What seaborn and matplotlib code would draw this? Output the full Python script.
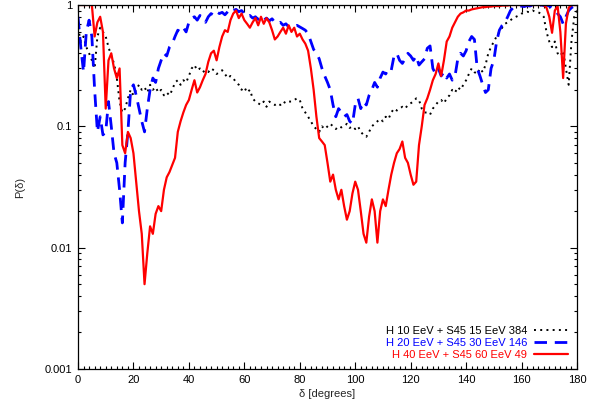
import matplotlib
matplotlib.use("Agg")
import matplotlib.pyplot as plt
import numpy as np
import pandas as pd
import seaborn as sns
from matplotlib.ticker import FixedLocator, FuncFormatter, LogLocator, MultipleLocator, NullFormatter

# angular separation in degrees
angle = list(range(0, 181))

# P(delta) for the three source combinations
p_h10_s15 = [
    0.65, 0.5, 0.55, 0.45, 0.4, 0.35, 0.3, 0.55, 0.65, 0.6,
    0.55, 0.45, 0.38, 0.33, 0.25, 0.16, 0.13, 0.14, 0.17, 0.2,
    0.18, 0.2, 0.22, 0.2, 0.21, 0.19, 0.22, 0.2, 0.21, 0.19,
    0.2, 0.18, 0.19, 0.18, 0.2, 0.23, 0.24, 0.22, 0.24, 0.23,
    0.26, 0.3, 0.32, 0.29, 0.3, 0.28, 0.29, 0.28, 0.3, 0.29,
    0.27, 0.28, 0.29, 0.27, 0.25, 0.26, 0.25, 0.23, 0.22, 0.2,
    0.21, 0.19, 0.2, 0.17, 0.16, 0.155, 0.15, 0.16, 0.145, 0.16,
    0.155, 0.15, 0.155, 0.15, 0.16, 0.155, 0.16, 0.16, 0.165, 0.17,
    0.165, 0.14, 0.13, 0.12, 0.11, 0.1, 0.095, 0.09, 0.1, 0.095,
    0.1, 0.105, 0.1, 0.095, 0.1, 0.098, 0.1, 0.105, 0.097, 0.1,
    0.095, 0.1, 0.09, 0.085, 0.082, 0.09, 0.1, 0.105, 0.11, 0.115,
    0.11, 0.12, 0.115, 0.13, 0.14, 0.135, 0.14, 0.145, 0.14, 0.15,
    0.155, 0.16, 0.17, 0.165, 0.14, 0.13, 0.13, 0.125, 0.14, 0.15,
    0.16, 0.165, 0.155, 0.17, 0.18, 0.2, 0.19, 0.21, 0.2, 0.22,
    0.24, 0.27, 0.3, 0.28, 0.27, 0.3, 0.28, 0.32, 0.4, 0.45,
    0.5, 0.55, 0.6, 0.65, 0.7, 0.72, 0.75, 0.78, 0.8, 0.82,
    0.85, 0.86, 0.88, 0.87, 0.9, 0.88, 0.87, 0.85, 0.8, 0.6,
    0.5, 0.45, 0.5, 0.4, 0.38, 0.42, 0.3, 0.22, 0.5, 0.8, 0.9,
]

p_h20_s30 = [
    0.8, 0.45, 0.28, 0.6, 0.75, 0.55, 0.2, 0.09, 0.12, 0.085,
    0.09, 0.16, 0.1, 0.06, 0.05, 0.03, 0.016, 0.05, 0.09, 0.2,
    0.22, 0.18, 0.14, 0.11, 0.09, 0.14, 0.2, 0.25, 0.23, 0.3,
    0.35, 0.4, 0.38, 0.45, 0.48, 0.55, 0.62, 0.6, 0.65, 0.6,
    0.72, 0.78, 0.8, 0.75, 0.82, 0.78, 0.72, 0.8, 0.85, 0.82,
    0.88, 0.85, 0.87, 0.83, 0.88, 0.85, 0.9, 0.92, 0.88, 0.9,
    0.85, 0.8, 0.82, 0.78, 0.8, 0.76, 0.8, 0.75, 0.78, 0.74,
    0.77, 0.72, 0.7, 0.72, 0.68, 0.7, 0.66, 0.68, 0.67, 0.68,
    0.66, 0.64, 0.62, 0.58, 0.5, 0.43, 0.4, 0.36, 0.3, 0.26,
    0.23, 0.2, 0.15, 0.12, 0.14, 0.13, 0.12, 0.125, 0.11, 0.105,
    0.15, 0.17, 0.14, 0.16, 0.15, 0.18, 0.2, 0.23, 0.21, 0.25,
    0.28, 0.27, 0.3, 0.29, 0.38, 0.4, 0.35, 0.33, 0.36, 0.4,
    0.38, 0.35, 0.38, 0.32, 0.34, 0.36, 0.44, 0.46, 0.3, 0.27,
    0.3, 0.26, 0.28, 0.25, 0.27, 0.24, 0.26, 0.36, 0.4, 0.38,
    0.42, 0.5, 0.55, 0.52, 0.3, 0.26, 0.22, 0.19, 0.2, 0.3,
    0.35, 0.5, 0.62, 0.68, 0.72, 0.8, 0.9, 0.95, 0.96, 0.97,
    0.98, 0.97, 0.99, 0.98, 1.0, 0.99, 0.98, 1.0, 0.99, 1.0,
    0.98, 0.95, 0.9, 0.85, 0.8, 0.7, 0.8, 0.9, 0.95, 0.98, 1.0,
]

p_h40_s60 = [
    1.0, 1.0, 1.0, 1.0, 1.0, 1.0, 0.55, 0.72, 0.8, 0.6,
    0.14, 0.35, 0.4, 0.3, 0.25, 0.3, 0.07, 0.06, 0.09, 0.08,
    0.06, 0.035, 0.02, 0.013, 0.005, 0.009, 0.015, 0.013, 0.019, 0.022,
    0.02, 0.03, 0.038, 0.042, 0.048, 0.055, 0.09, 0.11, 0.13, 0.15,
    0.165, 0.2, 0.24, 0.19, 0.21, 0.24, 0.27, 0.34, 0.4, 0.42,
    0.35, 0.45, 0.55, 0.62, 0.6, 0.75, 0.85, 0.9, 0.78, 0.85,
    0.75, 0.7, 0.65, 0.72, 0.78, 0.68, 0.8, 0.7, 0.78, 0.72,
    0.62, 0.52, 0.55, 0.6, 0.65, 0.58, 0.68, 0.6, 0.65, 0.55,
    0.58, 0.52, 0.48, 0.42, 0.3, 0.2, 0.12, 0.08, 0.075, 0.07,
    0.05, 0.035, 0.04, 0.03, 0.025, 0.03, 0.022, 0.017, 0.02, 0.028,
    0.035, 0.03, 0.02, 0.013, 0.011, 0.018, 0.025, 0.02, 0.011, 0.02,
    0.025, 0.022, 0.03, 0.04, 0.05, 0.06, 0.065, 0.075, 0.055, 0.05,
    0.04, 0.033, 0.035, 0.07, 0.1, 0.15, 0.17, 0.2, 0.24, 0.27,
    0.33, 0.26, 0.35, 0.5, 0.55, 0.65, 0.72, 0.8, 0.85, 0.87,
    0.9, 0.9, 0.92, 0.93, 0.94, 0.95, 0.96, 0.96, 0.97, 0.97,
    0.98, 0.98, 0.98, 0.99, 0.99, 0.99, 1.0, 1.0, 1.0, 1.0,
    1.0, 1.0, 1.0, 1.0, 1.0, 1.0, 1.0, 1.0, 1.0, 0.95,
    0.8, 0.59, 0.9, 0.98, 0.6, 0.25, 0.7, 0.95, 1.0, 1.0, 1.0,
]

series_labels = [
    "H 10 EeV + S45 15 EeV 384",
    "H 20 EeV + S45 30 EeV 146",
    "H 40 EeV + S45 60 EeV 49",
]
series_colors = ["#000000", "#0000ff", "#ff0000"]

x_ticks = [0, 20, 40, 60, 80, 100, 120, 140, 160, 180]
y_ticks = [0.001, 0.01, 0.1, 1]

sns.set_theme(style="ticks")
plt.rcParams["font.family"] = ["Liberation Sans", "DejaVu Sans"]

fig = plt.figure(figsize=(5.92, 4.07), dpi=100)
ax = fig.add_axes([78 / 592, 38 / 407, 499 / 592, 364 / 407])

styles = [
    dict(linestyle=(0, (1.0, 2.2)), linewidth=1.4),
    dict(linestyle=(0, (4.5, 2.8)), linewidth=2.0),
    dict(linestyle="-", linewidth=1.6),
]

for values, label, color, st in zip(
    [p_h10_s15, p_h20_s30, p_h40_s60], series_labels, series_colors, styles
):
    df = pd.DataFrame({"angle": angle, "p": values})
    sns.lineplot(data=df, x="angle", y="p", ax=ax, color=color, label=label,
                 estimator=None, sort=True, **st)

ax.set_yscale("log")
ax.set_xlim(0, 180)
ax.set_ylim(0.001, 1)

ax.xaxis.set_major_locator(FixedLocator(x_ticks))
ax.xaxis.set_minor_locator(MultipleLocator(2))
ax.yaxis.set_major_locator(FixedLocator(y_ticks))
ax.yaxis.set_minor_locator(LogLocator(base=10, subs=np.arange(2, 10)))
ax.yaxis.set_major_formatter(FuncFormatter(lambda v, _: f"{v:g}"))
ax.yaxis.set_minor_formatter(NullFormatter())

ax.tick_params(which="both", direction="in", top=True, right=True,
               labelsize=8, colors="black", width=0.8)
ax.tick_params(which="major", length=5, pad=4)
ax.tick_params(which="minor", length=2.5)

for sp in ax.spines.values():
    sp.set_visible(True)
    sp.set_linewidth(0.9)
    sp.set_color("black")

ax.set_xlabel("δ [degrees]", fontsize=8, labelpad=3)
ax.set_ylabel("P(δ)", fontsize=8, labelpad=14)

leg = ax.legend(loc="lower right", frameon=False, fontsize=8, markerfirst=False,
                handlelength=3.1, handletextpad=0.6, labelspacing=0.2,
                borderaxespad=0.4, labelcolor="linecolor")

fig.savefig("out.png", dpi=100)
